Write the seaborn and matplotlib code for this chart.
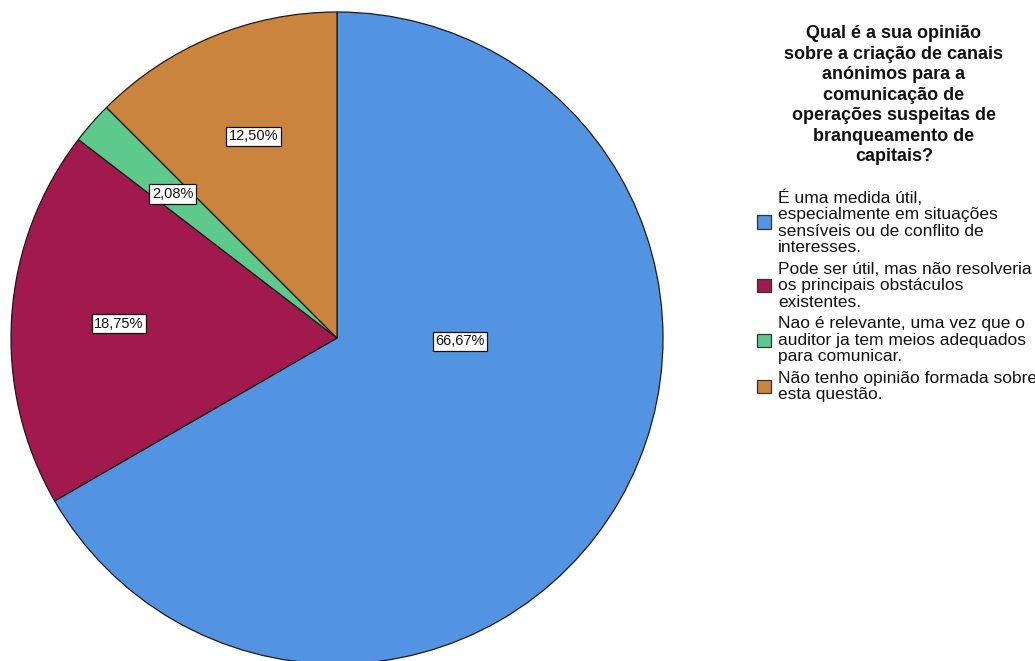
import matplotlib
matplotlib.use("Agg")
import matplotlib.pyplot as plt
from matplotlib.patches import Patch
import seaborn as sns

sns.set_theme(style="white")
plt.rcParams["font.family"] = ["Liberation Sans", "DejaVu Sans"]

# Survey answers and their shares (%)
categories = [
    "É uma medida útil,\nespecialmente em situações\nsensíveis ou de conflito de\ninteresses.",
    "Pode ser útil, mas não resolveria\nos principais obstáculos\nexistentes.",
    "Nao é relevante, uma vez que o\nauditor ja tem meios adequados\npara comunicar.",
    "Não tenho opinião formada sobre\nesta questão.",
]
percentages = [66.67, 18.75, 2.08, 12.50]
colors = ["#5294E2", "#A1194D", "#5DCA8C", "#CB843E"]
legend_title = ("Qual é a sua opinião\nsobre a criação de canais\nanónimos para a\n"
                "comunicação de\noperações suspeitas de\nbranqueamento de\ncapitais?")

fig = plt.figure(figsize=(10.35, 6.61), dpi=100)
W, H = 1035, 661
cx, cy, r = 337, 661 - 338, 326
ax = fig.add_axes([(cx - r) / W, (cy - r) / H, 2 * r / W, 2 * r / H])

wedges, texts, autotexts = ax.pie(
    percentages,
    colors=colors,
    startangle=90,
    counterclock=False,
    radius=1.0,
    autopct=lambda p: f"{p:.2f}%".replace(".", ","),
    pctdistance=0.67,
    wedgeprops=dict(edgecolor="#1a1a1a", linewidth=0.9),
    textprops=dict(fontsize=10.5, color="#111111"),
)
# the large slice carries its label nearer the centre
autotexts[0].set_position((0.377, -0.01))
for t in autotexts:
    t.set_bbox(dict(boxstyle="square,pad=0.18", facecolor="white",
                    edgecolor="#111111", linewidth=0.9))
ax.set_xlim(-1, 1)
ax.set_ylim(-1, 1)
ax.set_aspect("equal")
ax.axis("off")

# legend heading, centred over the legend entries
fig.text(894 / W, 1 - 25 / H, legend_title, ha="center", va="top",
         multialignment="center", fontsize=13, fontweight="bold",
         linespacing=1.275, color="#111111")

handles = [Patch(facecolor=c, edgecolor="#333333", linewidth=0.9) for c in colors]
leg = fig.legend(
    handles, categories,
    loc="upper left",
    bbox_to_anchor=(757 / W, 1 - 189 / H),
    frameon=False,
    fontsize=12.5,
    handlelength=0.8,
    handleheight=0.8,
    handletextpad=0.4,
    labelspacing=0.37,
    borderpad=0.0,
    borderaxespad=0.0,
)
for t in leg.get_texts():
    t.set_linespacing(1.13)
    t.set_color("#111111")

fig.savefig("out.png", dpi=100, facecolor="white")
